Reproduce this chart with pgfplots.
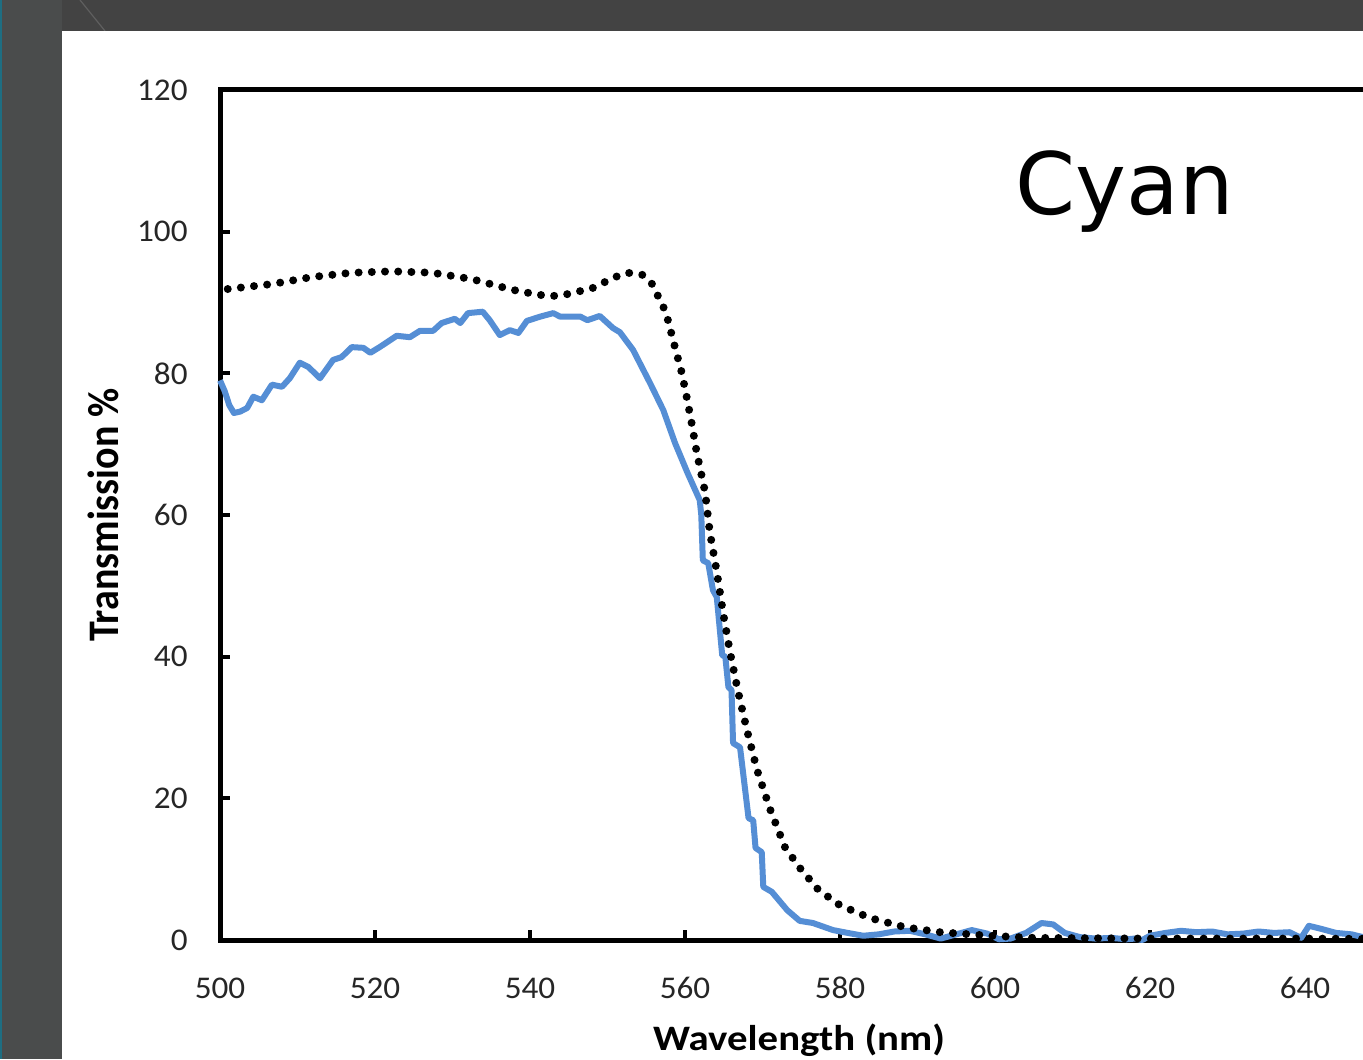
\documentclass[border=0pt]{standalone}
\usepackage{pgfplots}
\pgfplotsset{compat=1.18}
\usepackage{graphicx}
\usepackage{fontspec}
\setmainfont{DejaVu Sans}
\newfontfamily\xlabfont[FakeStretch=1.14]{Carlito}
\newfontfamily\ylabfont{Carlito}
\newfontfamily\tickfont[FakeStretch=1.05]{Carlito}
\definecolor{topband}{RGB}{67,67,67}
\definecolor{leftband}{RGB}{74,76,76}
\definecolor{tealline}{RGB}{30,110,130}
\definecolor{diagline}{RGB}{95,95,95}
\definecolor{cyanline}{RGB}{85,142,213}
\begin{document}
\begin{tikzpicture}
\useasboundingbox (-110pt,-59.5pt) rectangle (571.5pt,470pt);
\clip (-110pt,-59.5pt) rectangle (571.5pt,470pt);
\fill[topband] (-110pt,-59.5pt) rectangle (571.5pt,470pt);
\fill[leftband] (-110pt,-59.5pt) rectangle (-79pt,470pt);
\fill[tealline] (-110pt,-59.5pt) rectangle (-109pt,470pt);
\draw[diagline, line width=0.6pt] (-70pt,470pt) -- (-57.5pt,454.5pt);
\fill[white] (-79pt,-59.5pt) rectangle (571.5pt,454.5pt);
\begin{axis}[
  at={(0pt,0pt)}, anchor=south west,
  scale only axis, width=620pt, height=425pt,
  xmin=500, xmax=660, ymin=0, ymax=120,
  xtick={500,520,...,640}, ytick={0,20,...,120},
  clip=false,
  axis line style={line width=2.5pt, black},
  tick style={line width=2pt, black},
  major tick length=5pt,
  tick align=inside,
  xtick pos=bottom, ytick pos=left,
  /pgf/number format/assume math mode=true,
  tick label style={font=\tickfont\fontsize{15.8}{18}\selectfont, inner sep=0pt, text=black!85},
  xticklabel style={anchor=base, yshift=-29pt},
  yticklabel style={anchor=east, xshift=-16pt},
  xlabel={\textbf{Wavelength (nm)}},
  ylabel={\scalebox{1}[1.09]{\textbf{Transmission \%}}},
  xlabel style={font=\xlabfont\fontsize{17.9}{20}\selectfont, at={(axis description cs:0.467,0)}, anchor=base, yshift=-55pt},
  ylabel style={font=\ylabfont\fontsize{20}{22}\selectfont, at={([xshift=-58.5pt]axis description cs:0,0.5)}, anchor=center, rotate=0},
]
\addplot[cyanline, line width=3pt, line join=round] coordinates {
(500,79.0)(500.6,77.5)(501.2,75.5)(501.8,74.4)(502.6,74.6)(503.5,75.1)(504.3,76.7)(505.4,76.2)(506.7,78.4)(508,78.1)(509,79.3)(510.3,81.5)(511.4,80.9)(512.9,79.3)(514.6,81.9)(515.7,82.3)(517,83.7)(518.5,83.6)(519.4,82.9)(520.6,83.7)(522.8,85.3)(524.5,85.1)(525.8,86.0)(527.5,86.0)(528.6,87.1)(530.3,87.7)(531,87.1)(532,88.5)(533.9,88.7)(534.8,87.5)(536.1,85.4)(537.4,86.1)(538.5,85.7)(539.6,87.4)(541.3,88.0)(543,88.5)(543.9,88.0)(546.5,88.0)(547.4,87.5)(549,88.1)(550.7,86.4)(551.6,85.8)(553.3,83.3)(555.5,78.6)(557.2,74.8)(558.7,70.2)(560.3,66.0)(561.9,62.1)(562.1,60)(562.3,53.6)(563,53.2)(563.6,49.4)(564.1,48.4)(564.8,40.2)(565.2,40.0)(565.6,35.7)(566,35.3)(566.2,27.8)(567.1,27.2)(568.2,17.2)(568.8,16.9)(569.1,13.0)(569.9,12.4)(570.1,7.5)(571.2,6.8)(573.2,4.2)(574.8,2.7)(576.5,2.4)(579.1,1.4)(581,1.0)(583,0.6)(585,0.8)(587,1.2)(589,1.3)(591,0.8)(593,0.2)(595,0.8)(597,1.4)(599,0.9)(600.5,0.1)(602,0.2)(604,1.0)(606,2.4)(607.5,2.2)(609,1.0)(611,0.4)(613,0.2)(615,0.3)(617,0.1)(618,0.2)(619,0.0)(620,0.6)(622,1.0)(624,1.3)(626,1.1)(628,1.2)(630,0.8)(632,0.9)(634,1.2)(636,1.0)(638,1.1)(639.5,0.3)(640.5,2.0)(642,1.6)(644,1.0)(646,0.8)(647.5,0.4)(650,0.3)
};
\addplot[black, line width=4pt, line cap=round, dash pattern=on 0pt off 6.6pt] coordinates {
(501,91.9)(506.7,92.6)(511.9,93.6)(517,94.2)(522.2,94.4)(527.4,94.2)(532.5,93.3)(537.7,91.8)(541,91.1)(542.8,90.9)(544.5,91.1)(548,92.0)(551,93.6)(552.6,94.2)(554.5,93.9)(555.7,92.7)(557.2,89.4)(557.8,87.5)(558.7,83.7)(559.6,80.0)(560.3,76.2)(560.9,72.7)(561.5,68.9)(562.6,63.2)(563.2,57.6)(564.1,52.0)(564.9,46.3)(565.8,40.7)(566.8,35.3)(568,29.6)(569.3,24.0)(571,18.4)(572.9,13.1)(574.8,10.2)(577.2,7.1)(580,4.9)(583.9,3.1)(588.4,1.8)(592.9,1.1)(599.4,0.6)(605,0.3)(620,0.2)(640,0.2)(660,0.1)
};
\node[anchor=base west, inner sep=0pt, font=\fontsize{43}{50}\selectfont] at (axis cs:602.6,102.4) {Cyan};
\end{axis}
\end{tikzpicture}
\end{document}
